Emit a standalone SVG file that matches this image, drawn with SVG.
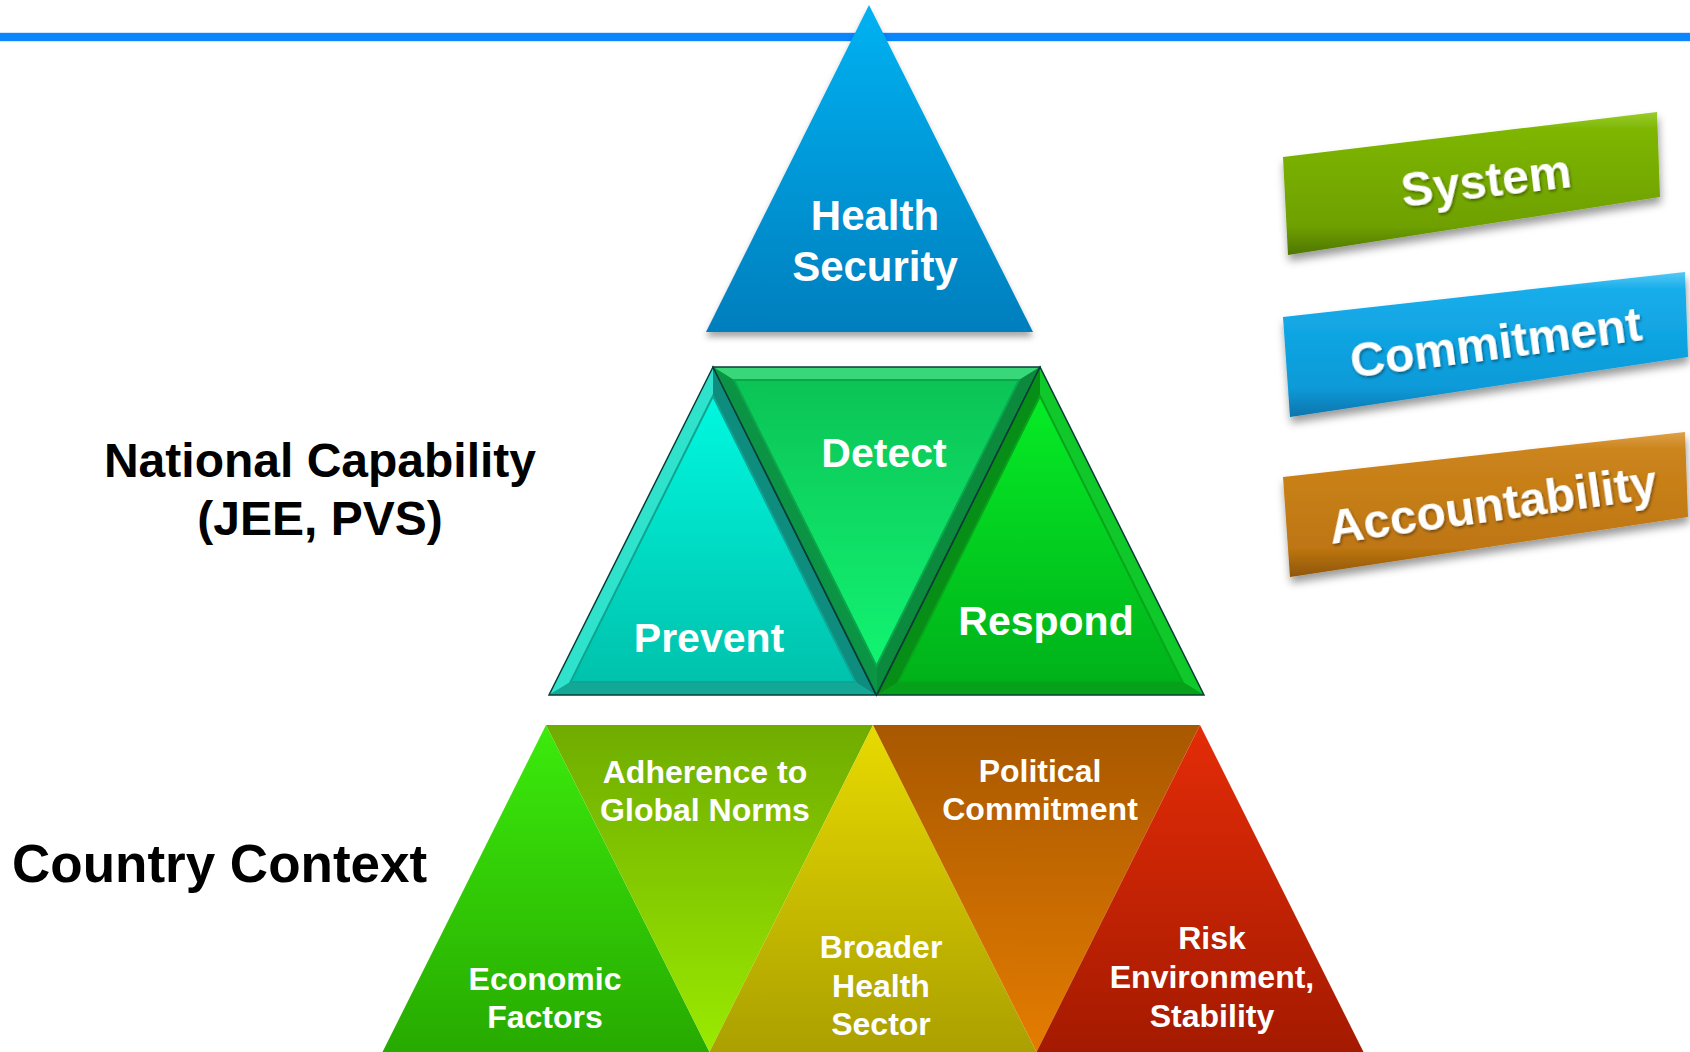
<svg xmlns="http://www.w3.org/2000/svg" width="1690" height="1052" viewBox="0 0 1690 1052">
<defs>
<style>
.lbl{font-family:'Liberation Sans',Arial,sans-serif;font-weight:bold;fill:#ffffff;text-anchor:middle}
.side{font-family:'Liberation Sans',Arial,sans-serif;font-weight:bold;fill:#000000}
.face{stroke:none}
.edge{fill:none;stroke:#0a3d36;stroke-width:1.5;stroke-linejoin:miter}
</style>
<filter id="shadow" x="-10%" y="-10%" width="120%" height="130%">
<feDropShadow dx="0" dy="5" stdDeviation="3" flood-color="#000" flood-opacity="0.35"/>
</filter>
<filter id="bshadow" x="-10%" y="-20%" width="120%" height="160%">
<feDropShadow dx="1" dy="6" stdDeviation="4" flood-color="#000" flood-opacity="0.4"/>
</filter>
<filter id="tshadow" x="-10%" y="-20%" width="120%" height="160%">
<feDropShadow dx="1" dy="2" stdDeviation="1.5" flood-color="#000" flood-opacity="0.45"/>
</filter>
<linearGradient id="gHS" x1="0" y1="0" x2="0" y2="1">
<stop offset="0" stop-color="#00B2F2"/><stop offset="1" stop-color="#047EBD"/>
</linearGradient>
<linearGradient id="gPrev" x1="0" y1="0" x2="0" y2="1">
<stop offset="0" stop-color="#00F8E0"/><stop offset="1" stop-color="#00C2AC"/>
</linearGradient>
<linearGradient id="gDet" x1="0" y1="0" x2="0" y2="1">
<stop offset="0" stop-color="#0BC356"/><stop offset="1" stop-color="#12F472"/>
</linearGradient>
<linearGradient id="gResp" x1="0" y1="0" x2="0" y2="1">
<stop offset="0" stop-color="#06EC26"/><stop offset="1" stop-color="#00B21A"/>
</linearGradient>
<linearGradient id="gEco" x1="0" y1="0" x2="0" y2="1">
<stop offset="0" stop-color="#3CEB0C"/><stop offset="1" stop-color="#27AA00"/>
</linearGradient>
<linearGradient id="gAdh" x1="0" y1="0" x2="0" y2="1">
<stop offset="0" stop-color="#70AC00"/><stop offset="1" stop-color="#9AEA00"/>
</linearGradient>
<linearGradient id="gBro" x1="0" y1="0" x2="0" y2="1">
<stop offset="0" stop-color="#E8DA00"/><stop offset="1" stop-color="#ABA000"/>
</linearGradient>
<linearGradient id="gPol" x1="0" y1="0" x2="0" y2="1">
<stop offset="0" stop-color="#A85800"/><stop offset="1" stop-color="#E47C00"/>
</linearGradient>
<linearGradient id="gRisk" x1="0" y1="0" x2="0" y2="1">
<stop offset="0" stop-color="#E42C08"/><stop offset="1" stop-color="#A41A00"/>
</linearGradient>
<linearGradient id="gSys" x1="0" y1="0" x2="0" y2="1">
<stop offset="0" stop-color="#9ACC30"/><stop offset="0.12" stop-color="#7EB600"/><stop offset="0.8" stop-color="#6EA000"/><stop offset="1" stop-color="#4E7600"/>
</linearGradient>
<linearGradient id="gCom" x1="0" y1="0" x2="0" y2="1">
<stop offset="0" stop-color="#56C8F4"/><stop offset="0.12" stop-color="#16ADEB"/><stop offset="0.8" stop-color="#0B9AD8"/><stop offset="1" stop-color="#0774AC"/>
</linearGradient>
<linearGradient id="gAcc" x1="0" y1="0" x2="0" y2="1">
<stop offset="0" stop-color="#DEA04A"/><stop offset="0.12" stop-color="#CC841C"/><stop offset="0.8" stop-color="#BE7612"/><stop offset="1" stop-color="#8E5606"/>
</linearGradient>
</defs>

<rect x="0" y="0" width="1690" height="1052" fill="#ffffff"/>

<!-- top rule -->
<g id="top-rule">
<rect x="0" y="32" width="1690" height="10" fill="#CFE6FF"/>
<rect x="0" y="33" width="1690" height="8" fill="#0A86FF"/>
</g>

<g id="connectors"></g>

<!-- Health Security -->
<g id="node-health-security">
<polygon points="869,5 706,332 1033,332" fill="url(#gHS)" filter="url(#shadow)"/>
<text class="lbl" x="875" y="230" font-size="42">Health</text>
<text class="lbl" x="875" y="281" font-size="42">Security</text>
</g>

<!-- National Capability row -->
<g id="node-prevent">
<polygon points="713,367 549,695 876,695" fill="#12A393"/>
<polygon points="713,367 549,695 570.5,682 713,396" fill="#2EE2CC"/>
<polygon points="713,367 876,695 855.5,682 713,396" fill="#0E8C7E"/>
<polygon points="549,695 876,695 855.5,682 570.5,682" fill="#13A896"/>
<polygon points="713,396 570.5,682 855.5,682" fill="url(#gPrev)" stroke="#0FA593" stroke-width="2"/>
<polygon class="edge" points="713,367 549,695 876,695"/>
<text class="lbl" x="709" y="652" font-size="41">Prevent</text>
</g>

<g id="node-detect">
<polygon points="713,367 1040,367 876.5,695" fill="#0CB04E"/>
<polygon points="713,367 1040,367 1019,380 734,380" fill="#38D87A"/>
<polygon points="713,367 876.5,695 876.5,666 734,380" fill="#0A9444"/>
<polygon points="1040,367 876.5,695 876.5,666 1019,380" fill="#0B8A3E"/>
<polygon points="734,380 1019,380 876.5,666" fill="url(#gDet)" stroke="#0AA84A" stroke-width="2"/>
<polygon class="edge" points="713,367 1040,367 876.5,695" stroke="#0a3d20"/>
<text class="lbl" x="884" y="467" font-size="41">Detect</text>
</g>

<g id="node-respond">
<polygon points="1040,367 877,695 1204,695" fill="#08A81C"/>
<polygon points="1040,367 877,695 898.5,682 1040,396" fill="#078E16"/>
<polygon points="1040,367 1204,695 1182.5,682 1040,396" fill="#10C82A"/>
<polygon points="877,695 1204,695 1182.5,682 898.5,682" fill="#07A01A"/>
<polygon points="1040,396 898.5,682 1182.5,682" fill="url(#gResp)" stroke="#06A51C" stroke-width="2"/>
<polygon class="edge" points="1040,367 877,695 1204,695" stroke="#0a3d10"/>
<text class="lbl" x="1046" y="635" font-size="41">Respond</text>
</g>

<!-- Country Context row -->
<g id="node-economic">
<polygon points="546,725 382.5,1052 709.5,1052" fill="url(#gEco)"/>
<text class="lbl" x="545" y="990" font-size="32">Economic</text>
<text class="lbl" x="545" y="1028" font-size="32">Factors</text>
</g>
<g id="node-adherence">
<polygon points="546,725 873,725 709.5,1052" fill="url(#gAdh)"/>
<text class="lbl" x="705" y="783" font-size="32">Adherence to</text>
<text class="lbl" x="705" y="821" font-size="32">Global Norms</text>
</g>
<g id="node-broader">
<polygon points="873,725 709.5,1052 1036.5,1052" fill="url(#gBro)"/>
<text class="lbl" x="881" y="958" font-size="32">Broader</text>
<text class="lbl" x="881" y="997" font-size="32">Health</text>
<text class="lbl" x="881" y="1035" font-size="32">Sector</text>
</g>
<g id="node-political">
<polygon points="873,725 1200,725 1036.5,1052" fill="url(#gPol)"/>
<text class="lbl" x="1040" y="782" font-size="32">Political</text>
<text class="lbl" x="1040" y="820" font-size="32">Commitment</text>
</g>
<g id="node-risk">
<polygon points="1200,725 1036.5,1052 1363.5,1052" fill="url(#gRisk)"/>
<text class="lbl" x="1212" y="949" font-size="32">Risk</text>
<text class="lbl" x="1212" y="988" font-size="32">Environment,</text>
<text class="lbl" x="1212" y="1027" font-size="32">Stability</text>
</g>

<!-- side labels -->
<g id="label-national-capability">
<text class="side" x="320" y="477" font-size="48" text-anchor="middle">National Capability</text>
<text class="side" x="320" y="535" font-size="48" text-anchor="middle">(JEE, PVS)</text>
</g>
<g id="label-country-context">
<text class="side" x="12" y="882" font-size="53">Country Context</text>
</g>

<!-- right boxes -->
<g id="node-system">
<polygon points="1283,157 1657,112 1660,197 1288,255" fill="url(#gSys)" filter="url(#bshadow)"/>
<text class="lbl" x="1488" y="197" font-size="48" transform="rotate(-6.8 1488 197)" filter="url(#tshadow)">System</text>
</g>
<g id="node-commitment">
<polygon points="1283,317 1685,272 1688,357 1290,417" fill="url(#gCom)" filter="url(#bshadow)"/>
<text class="lbl" x="1498" y="359" font-size="48" transform="rotate(-7.4 1498 359)" filter="url(#tshadow)">Commitment</text>
</g>
<g id="node-accountability">
<polygon points="1283,477 1685,432 1688,517 1290,577" fill="url(#gAcc)" filter="url(#bshadow)"/>
<text class="lbl" x="1495" y="521" font-size="48" transform="rotate(-8 1495 521)" filter="url(#tshadow)">Accountability</text>
</g>
</svg>
